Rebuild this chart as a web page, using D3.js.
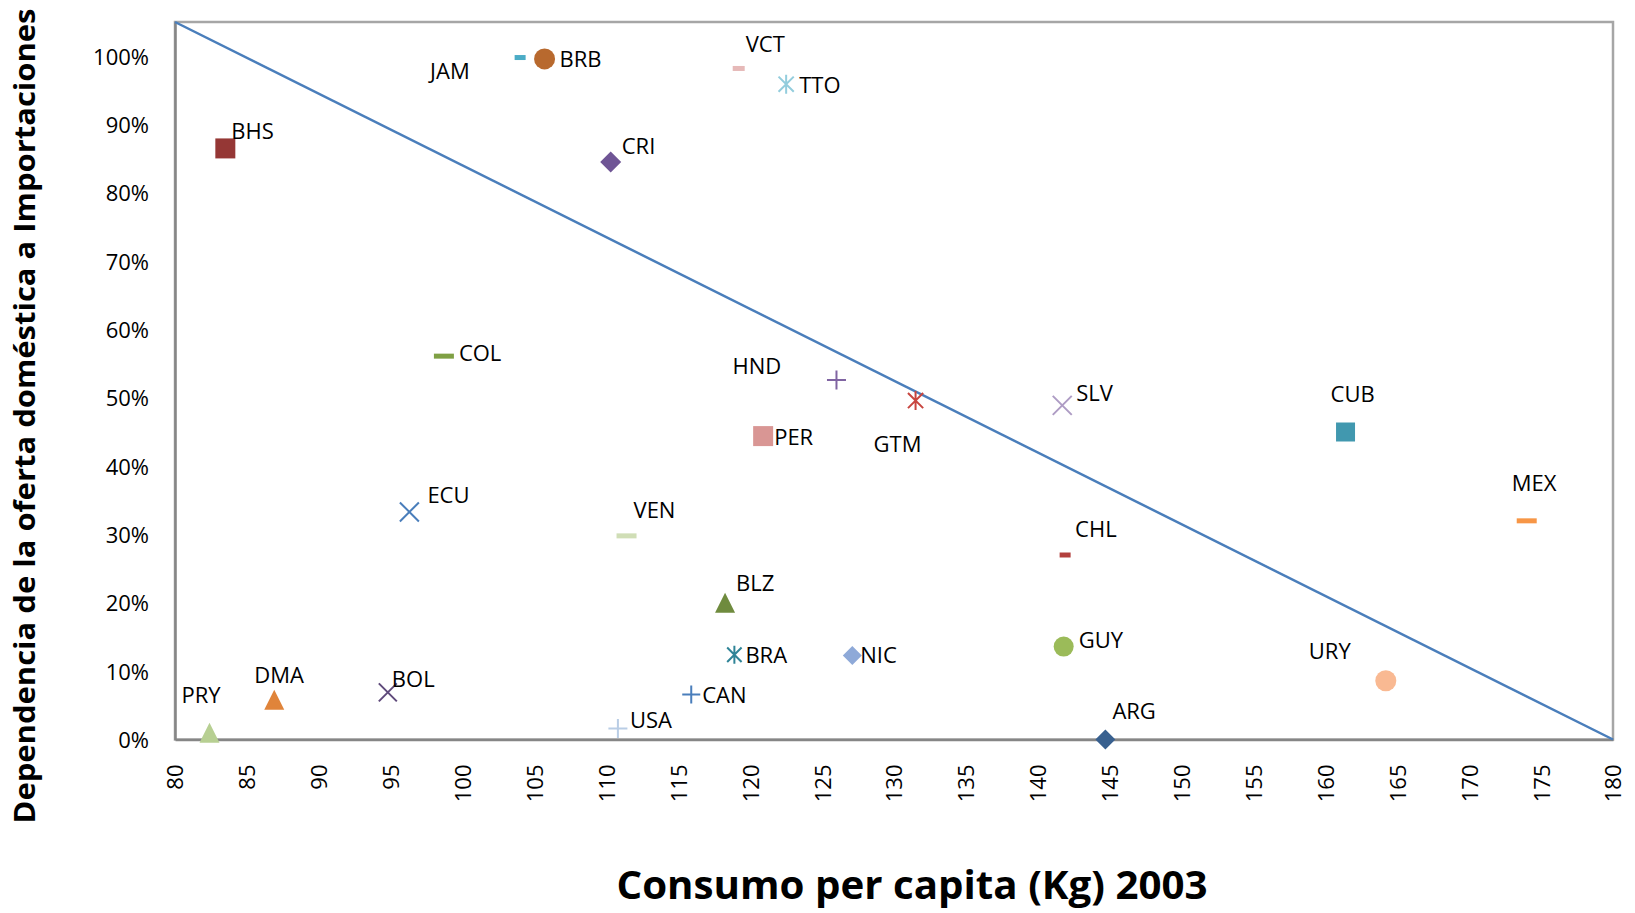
<!doctype html>
<html lang="es">
<head>
<meta charset="utf-8">
<title>Consumo per capita vs dependencia de importaciones</title>
<script src="https://cdn.jsdelivr.net/npm/d3@7"></script>
<style>
  body { margin: 0; background: #fff; }
  svg text { font-family: "Open Sans", "Noto Sans", sans-serif; fill: #000; }
</style>
</head>
<body>
<script>
// data
var paises = ['ARG','BHS','BLZ','BOL','BRA','BRB','CAN','CHL','COL','CRI','CUB','DMA','ECU',
              'GTM','GUY','HND','JAM','MEX','NIC','PER','PRY','SLV','TTO','URY','USA','VCT','VEN'];
var consumo = [144.7, 83.5, 118.25, 94.8, 118.9, 105.7, 115.9, 141.9, 98.7, 110.3, 161.4, 86.9, 96.3,
               131.5, 141.8, 126.0, 104.0, 174.0, 127.1, 120.9, 82.4, 141.7, 122.5, 164.2, 110.8, 119.2, 111.4];
var dependencia = [0.0, 0.865, 0.200, 0.069, 0.124, 0.996, 0.066, 0.270, 0.561, 0.845, 0.450, 0.058, 0.333,
                   0.496, 0.136, 0.526, 0.998, 0.320, 0.123, 0.444, 0.010, 0.489, 0.959, 0.086, 0.016, 0.982, 0.298];
var lineaX = [80, 180];
var lineaY = [1.05, 0];
var xTicks = d3.range(80, 181, 5);
var yTicks = d3.range(0, 11).map(d => d / 10);

// marker look per country (Excel style)
var estilo = {
  ARG: ['diamond', '#38608F', 20], BHS: ['square', '#953735', 20], BLZ: ['triangle', '#6F8B3E', 20],
  BOL: ['x', '#5F4A7B', 18],       BRA: ['star', '#2F8497', 18],    BRB: ['circle', '#B8692E', 21],
  CAN: ['plus', '#4A7EBB', 18],    CHL: ['dash', '#B3403D', 11],    COL: ['dash', '#7FA044', 20],
  CRI: ['diamond', '#6F5595', 21], CUB: ['square', '#4198AF', 19],  DMA: ['triangle', '#E0843A', 20],
  ECU: ['x', '#4A7EBB', 19],       GTM: ['star', '#C8453F', 19],    GUY: ['circle', '#9BBB59', 20],
  HND: ['plus', '#8064A2', 19],    JAM: ['dash', '#4BACC6', 11],    MEX: ['dash', '#F79646', 20],
  NIC: ['diamond', '#8EA9D8', 19], PER: ['square', '#D99694', 20],  PRY: ['triangle', '#B7CF92', 20],
  SLV: ['x', '#AE9CC4', 19],       TTO: ['star', '#93CDDD', 19],    URY: ['circle', '#F9B992', 21],
  USA: ['plus', '#B9CDE5', 19],    VCT: ['dash', '#E6B9B8', 12],    VEN: ['dash', '#D0DEB6', 20]
};
// label offsets from the marker (dx, dy of text start / baseline)
var etiqueta = {
  ARG: [7, -21], BHS: [6, -9], BLZ: [11, -12], BOL: [4, -5], BRA: [11, 8], BRB: [15, 8],
  CAN: [11, 9], CHL: [10, -18], COL: [15, 5], CRI: [11, -8], CUB: [-15, -30], DMA: [-20, -17],
  ECU: [18, -9], GTM: [-42, 51], GUY: [15, 1], HND: [-104, -6], JAM: [-90, 21], MEX: [-15, -30],
  NIC: [8, 8], PER: [11, 9], PRY: [-28, -30], SLV: [14, -4], TTO: [13, 9], URY: [-77, -22],
  USA: [12, -1], VCT: [7, -16], VEN: [7, -18]
};

var width = 1635, height = 913;
var margin = { left: 175, right: 22, top: 22, bottom: 173.5 };

var svg = d3.select('body').append('svg')
  .attr('width', width)
  .attr('height', height);

var x = d3.scaleLinear().domain([80, 180]).range([margin.left, width - margin.right]);
var y = d3.scaleLinear().domain([0, 1.05]).range([height - margin.bottom, margin.top]);

// plot frame
svg.append('rect')
  .attr('x', x(80)).attr('y', y(1.05))
  .attr('width', x(180) - x(80)).attr('height', y(0) - y(1.05))
  .attr('fill', 'none').attr('stroke', '#A6A6A6').attr('stroke-width', 2.5);

// axes
var yAxis = svg.append('g')
  .attr('transform', 'translate(' + x(80) + ',0)')
  .call(d3.axisLeft(y).tickValues(yTicks).tickSize(0).tickPadding(26).tickFormat(d3.format('.0%')));
yAxis.select('.domain').attr('stroke', '#868686').attr('stroke-width', 2.5);
yAxis.selectAll('text').style('font-size', '22px').attr('dy', '0.36em');

var xAxis = svg.append('g')
  .attr('transform', 'translate(0,' + y(0) + ')')
  .call(d3.axisBottom(x).tickValues(xTicks).tickSize(0));
xAxis.select('.domain').attr('stroke', '#868686').attr('stroke-width', 2.5);
xAxis.selectAll('text')
  .style('font-size', '22px')
  .attr('text-anchor', 'end')
  .attr('transform', 'rotate(-90)')
  .attr('x', -25)
  .attr('y', 0)
  .attr('dy', '0.36em');

// diagonal reference line
svg.append('path')
  .datum(d3.zip(lineaX, lineaY))
  .attr('d', d3.line().x(d => x(d[0])).y(d => y(d[1])))
  .attr('fill', 'none')
  .attr('stroke', '#4A7EBB')
  .attr('stroke-width', 2.5);

function markerPath(shape, s) {
  var h = s / 2;
  switch (shape) {
    case 'square': return 'M' + (-h) + ',' + (-h) + 'H' + h + 'V' + h + 'H' + (-h) + 'Z';
    case 'diamond': return 'M0,' + (-h) + 'L' + h + ',0L0,' + h + 'L' + (-h) + ',0Z';
    case 'triangle': return 'M0,' + (-h) + 'L' + h + ',' + h + 'L' + (-h) + ',' + h + 'Z';
    case 'circle': return d3.symbol(d3.symbolCircle, Math.PI * h * h)();
    case 'x': return 'M' + (-h) + ',' + (-h) + 'L' + h + ',' + h + 'M' + (-h) + ',' + h + 'L' + h + ',' + (-h);
    case 'plus': return 'M' + (-h) + ',0H' + h + 'M0,' + (-h) + 'V' + h;
    case 'star': return 'M' + (-h * 0.8) + ',' + (-h * 0.8) + 'L' + (h * 0.8) + ',' + (h * 0.8) +
                        'M' + (-h * 0.8) + ',' + (h * 0.8) + 'L' + (h * 0.8) + ',' + (-h * 0.8) +
                        'M0,' + (-h) + 'V' + h;
    case 'dash': return 'M' + (-h) + ',-2.5H' + h + 'V2.5H' + (-h) + 'Z';
  }
}

var puntos = paises.map((p, i) => ({ pais: p, x: consumo[i], y: dependencia[i] }));

var g = svg.append('g');
g.selectAll('path')
  .data(puntos)
  .enter()
  .append('path')
  .attr('transform', d => 'translate(' + x(d.x) + ',' + y(d.y) + ')')
  .attr('d', d => markerPath(estilo[d.pais][0], estilo[d.pais][2]))
  .attr('fill', d => ['x', 'plus', 'star'].includes(estilo[d.pais][0]) ? 'none' : estilo[d.pais][1])
  .attr('stroke', d => ['x', 'plus', 'star'].includes(estilo[d.pais][0]) ? estilo[d.pais][1] : 'none')
  .attr('stroke-width', 2);

g.selectAll('text')
  .data(puntos)
  .enter()
  .append('text')
  .attr('x', d => x(d.x) + etiqueta[d.pais][0])
  .attr('y', d => y(d.y) + etiqueta[d.pais][1])
  .style('font-size', '22px')
  .text(d => d.pais);

// axis titles
svg.append('text')
  .attr('x', 912)
  .attr('y', 899)
  .attr('text-anchor', 'middle')
  .attr('textLength', 591)
  .attr('lengthAdjust', 'spacingAndGlyphs')
  .style('font-size', '40px')
  .style('font-weight', 'bold')
  .text('Consumo per capita (Kg) 2003');

svg.append('text')
  .attr('transform', 'translate(35,416) rotate(-90)')
  .attr('text-anchor', 'middle')
  .attr('textLength', 815)
  .attr('lengthAdjust', 'spacingAndGlyphs')
  .style('font-size', '29px')
  .style('font-weight', 'bold')
  .text('Dependencia de la oferta doméstica a Importaciones');
</script>
</body>
</html>
